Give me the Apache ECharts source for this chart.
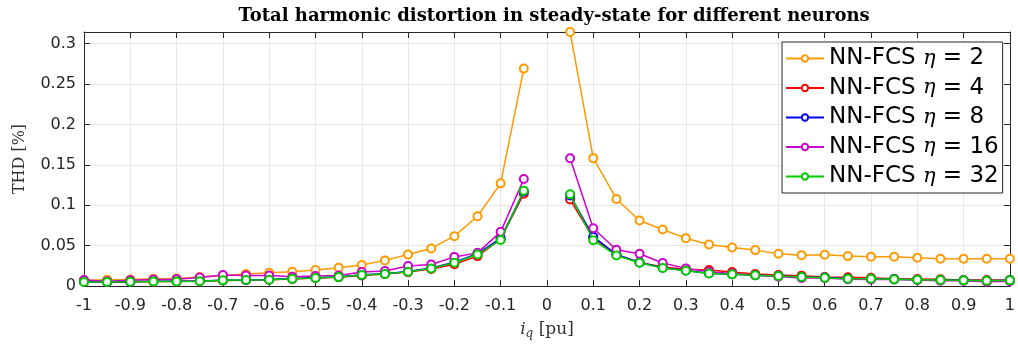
<!DOCTYPE html>
<html>
<head>
<meta charset="utf-8">
<script src="https://cdn.jsdelivr.net/npm/echarts@6/dist/echarts.min.js"></script>
<style>
  html, body { margin: 0; padding: 0; background: #fff; }
  #chart { width: 1018px; height: 345px; }
</style>
</head>
<body>
<div id="chart"></div>
<script>
// iq [pu], no point at 0 ("-" breaks the line)
const iq = [-1, -0.95, -0.9, -0.85, -0.8, -0.75, -0.7, -0.65, -0.6, -0.55, -0.5,
  -0.45, -0.4, -0.35, -0.3, -0.25, -0.2, -0.15, -0.1, -0.05, 0,
  0.05, 0.1, 0.15, 0.2, 0.25, 0.3, 0.35, 0.4, 0.45, 0.5,
  0.55, 0.6, 0.65, 0.7, 0.75, 0.8, 0.85, 0.9, 0.95, 1]

const thdEta2 = [0.007, 0.0078, 0.008, 0.009, 0.0092, 0.011, 0.013, 0.0148, 0.0165, 0.0177, 0.0197,
  0.0227, 0.026, 0.0317, 0.039, 0.0465, 0.0617, 0.0863, 0.127, 0.269, "-",
  0.3143, 0.1582, 0.1077, 0.081, 0.0699, 0.0592, 0.0514, 0.0477, 0.0444, 0.0399,
  0.0382, 0.0387, 0.037, 0.0362, 0.0362, 0.035, 0.0338, 0.0338, 0.0338, 0.0338]
const thdEta4 = [0.0055, 0.005, 0.0052, 0.0056, 0.0056, 0.0062, 0.0068, 0.0072, 0.0078, 0.0088, 0.0098,
  0.0108, 0.013, 0.0148, 0.0172, 0.021, 0.027, 0.037, 0.058, 0.1143, "-",
  0.107, 0.0596, 0.0387, 0.029, 0.0235, 0.0206, 0.0197, 0.0173, 0.0148, 0.0136,
  0.0128, 0.0111, 0.0107, 0.0103, 0.009, 0.0086, 0.0082, 0.0074, 0.0074, 0.0074]
const thdEta8 = [0.0052, 0.0051, 0.0054, 0.0058, 0.0058, 0.0062, 0.0071, 0.0075, 0.008, 0.0092, 0.0102,
  0.0112, 0.0138, 0.0152, 0.018, 0.0222, 0.0295, 0.04, 0.059, 0.117, "-",
  0.112, 0.061, 0.039, 0.0292, 0.0225, 0.0192, 0.0158, 0.0146, 0.0133, 0.0124,
  0.0112, 0.0104, 0.0092, 0.009, 0.0083, 0.0078, 0.0074, 0.007, 0.0066, 0.007]
const thdEta16 = [0.0074, 0.006, 0.007, 0.008, 0.0085, 0.0105, 0.0136, 0.013, 0.013, 0.0115, 0.0123,
  0.013, 0.0173, 0.0185, 0.0247, 0.0267, 0.036, 0.041, 0.067, 0.1323, "-",
  0.158, 0.0715, 0.0448, 0.0399, 0.0284, 0.0218, 0.0177, 0.0156, 0.0132, 0.0116,
  0.0099, 0.0099, 0.0083, 0.008, 0.008, 0.0074, 0.0066, 0.0066, 0.0054, 0.0058]
const thdEta32 = [0.005, 0.005, 0.0053, 0.0057, 0.0057, 0.006, 0.007, 0.0074, 0.0078, 0.009, 0.01,
  0.011, 0.0136, 0.015, 0.0177, 0.0218, 0.0288, 0.039, 0.057, 0.118, "-",
  0.1134, 0.0567, 0.0378, 0.0288, 0.0222, 0.019, 0.0156, 0.0144, 0.0132, 0.0123,
  0.0111, 0.0103, 0.0091, 0.0091, 0.0082, 0.0078, 0.0074, 0.007, 0.0066, 0.007]

const seriesNames = ["NN-FCS η = 2", "NN-FCS η = 4", "NN-FCS η = 8", "NN-FCS η = 16", "NN-FCS η = 32"]
const seriesColors = ["#FF9900", "#FF0000", "#0000FF", "#CC00CC", "#00CC00"]
const seriesValues = [thdEta2, thdEta4, thdEta8, thdEta16, thdEta32]

const yTicks = [0, 0.05, 0.1, 0.15, 0.2, 0.25, 0.3]
const yMax = 0.3143

const axisColor = "#262626"
const gridColor = "#E6E6E6"

const chart = echarts.init(document.getElementById("chart"), null, { renderer: "canvas" })

const option = {
  animation: false,
  backgroundColor: "#fff",
  title: {
    text: "Total harmonic distortion in steady-state for different neurons",
    left: 549,
    textAlign: "center",
    top: 2,
    textStyle: {
      fontFamily: "DejaVu Serif",
      fontWeight: "bold",
      fontSize: 18,
      color: "#000",
    },
  },
  grid: {
    left: 84,
    right: 6,
    top: 32,
    bottom: 58,
    containLabel: false,
  },
  legend: {
    orient: "vertical",
    left: 782,
    top: 42,
    padding: [5, 4, 5, 3],
    itemGap: 6.5,
    itemWidth: 38,
    itemHeight: 8,
    backgroundColor: "#fff",
    borderColor: axisColor,
    borderWidth: 1,
    borderRadius: 0,
    data: seriesNames,
    formatter: function (name) {
      const parts = name.split("η")
      return "{a|" + parts[0] + "}{b|η}{a|" + parts[1] + "}"
    },
    textStyle: {
      padding: [0, 0, 0, 0],
      rich: {
        a: { fontFamily: "DejaVu Sans", fontSize: 23, color: "#000" },
        b: { fontFamily: "DejaVu Serif", fontStyle: "italic", fontSize: 21, color: "#000" },
      },
    },
  },
  xAxis: [
    {
      type: "value",
      min: -1,
      max: 1,
      interval: 0.1,
      name: "{i|i}{q|q}{t| [pu]}",
      nameLocation: "middle",
      nameGap: 34,
      nameTextStyle: {
        rich: {
          i: { fontFamily: "DejaVu Serif", fontStyle: "italic", fontSize: 17, color: "#333" },
          q: { fontFamily: "DejaVu Serif", fontStyle: "italic", fontSize: 12, color: "#333", verticalAlign: "bottom", padding: [8, 0, 0, 0] },
          t: { fontFamily: "DejaVu Serif", fontSize: 17, color: "#333" },
        },
      },
      axisLine: { show: true, onZero: false, lineStyle: { color: axisColor, width: 1 } },
      axisTick: { show: true, inside: true, length: 6, lineStyle: { color: axisColor } },
      axisLabel: {
        fontFamily: "DejaVu Sans",
        fontSize: 16,
        color: axisColor,
        margin: 12,
        formatter: function (v) {
          return String(Math.round(v * 10) / 10)
        },
      },
      splitLine: { show: true, lineStyle: { color: gridColor, width: 1 } },
    },
    {
      type: "value",
      position: "top",
      min: -1,
      max: 1,
      interval: 0.1,
      axisLine: { show: true, onZero: false, lineStyle: { color: axisColor, width: 1 } },
      axisTick: { show: true, inside: true, length: 6, lineStyle: { color: axisColor } },
      axisLabel: { show: false },
      splitLine: { show: false },
    },
  ],
  yAxis: [
    {
      type: "value",
      min: 0,
      max: yMax,
      interval: 0.05,
      name: "THD [%]",
      nameLocation: "middle",
      nameGap: 56,
      nameTextStyle: { fontFamily: "DejaVu Serif", fontSize: 16, color: "#333" },
      axisLine: { show: true, onZero: false, lineStyle: { color: axisColor, width: 1 } },
      axisTick: { show: true, inside: true, length: 6, lineStyle: { color: axisColor } },
      axisLabel: {
        fontFamily: "DejaVu Sans",
        fontSize: 16,
        color: axisColor,
        margin: 8,
        formatter: function (v) {
          const hit = yTicks.find((t) => Math.abs(t - v) < 1e-6)
          return hit === undefined ? "" : String(hit)
        },
      },
      splitLine: { show: true, lineStyle: { color: gridColor, width: 1 } },
    },
    {
      type: "value",
      position: "right",
      min: 0,
      max: yMax,
      interval: 0.05,
      axisLine: { show: true, onZero: false, lineStyle: { color: axisColor, width: 1 } },
      axisTick: { show: true, inside: true, length: 6, lineStyle: { color: axisColor } },
      axisLabel: { show: false },
      splitLine: { show: false },
    },
  ],
  series: seriesNames.map((name, k) => ({
    name: name,
    type: "line",
    xAxisIndex: 0,
    yAxisIndex: 0,
    data: iq.map((x, i) => [x, seriesValues[k][i]]),
    connectNulls: false,
    symbol: "emptyCircle",
    symbolSize: 8,
    showAllSymbol: true,
    color: seriesColors[k],
    lineStyle: { color: seriesColors[k], width: 1.5 },
    itemStyle: { color: seriesColors[k], borderWidth: 1.5 },
    z: 2 + k,
  })),
}

option && chart.setOption(option)
</script>
</body>
</html>
